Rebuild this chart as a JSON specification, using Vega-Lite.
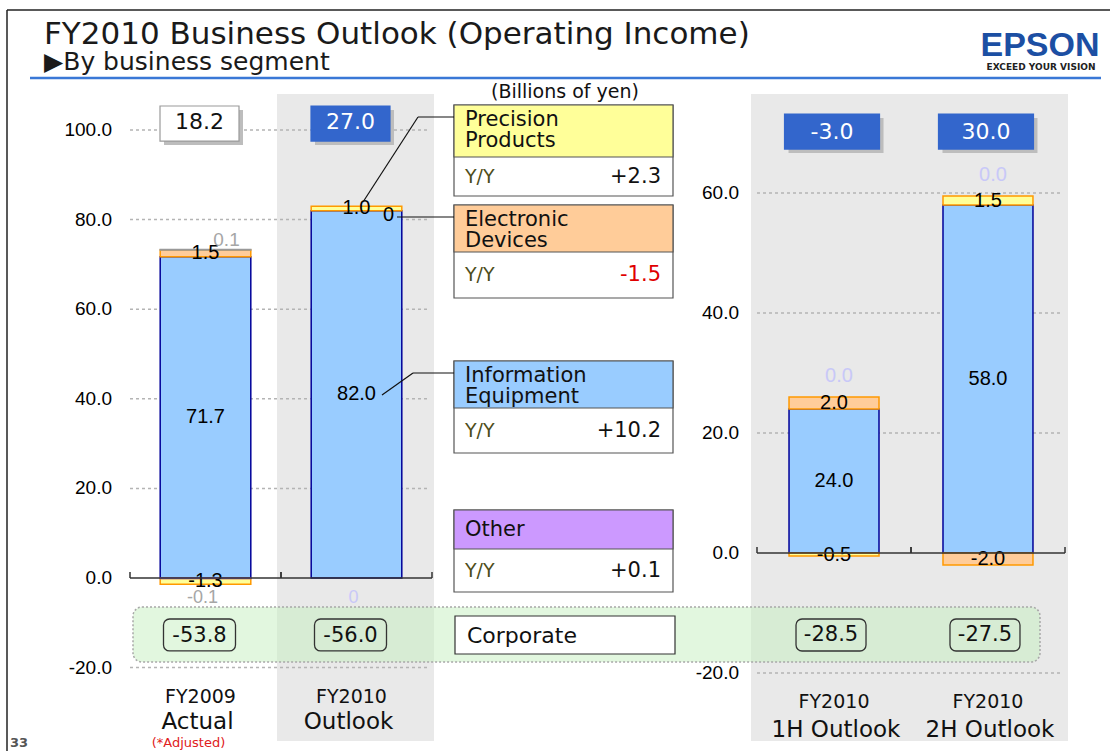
{
  "$schema": "https://vega.github.io/schema/vega-lite/v6.json",
  "width": 1110,
  "height": 751,
  "autosize": {"type": "none"},
  "padding": 0,
  "background": "#ffffff",
  "config": {"view": {"stroke": null}, "font": "DejaVu Sans"},
  "datasets": {
    "segments": [
      {"period": "FY2009 Actual", "panel": "annual", "series": "Information Equipment", "value": 71.7, "label": "71.7"},
      {"period": "FY2009 Actual", "panel": "annual", "series": "Electronic Devices", "value": 1.5, "label": "1.5"},
      {"period": "FY2009 Actual", "panel": "annual", "series": "Precision Products", "value": -1.3, "label": "-1.3"},
      {"period": "FY2009 Actual", "panel": "annual", "series": "Other", "value": -0.1, "label": "-0.1"},
      {"period": "FY2009 Actual", "panel": "annual", "series": "Unallocated", "value": 0.1, "label": "0.1"},
      {"period": "FY2010 Outlook", "panel": "annual", "series": "Information Equipment", "value": 82.0, "label": "82.0"},
      {"period": "FY2010 Outlook", "panel": "annual", "series": "Electronic Devices", "value": 0, "label": "0"},
      {"period": "FY2010 Outlook", "panel": "annual", "series": "Precision Products", "value": 1.0, "label": "1.0"},
      {"period": "FY2010 Outlook", "panel": "annual", "series": "Other", "value": 0, "label": "0"},
      {"period": "FY2010 1H Outlook", "panel": "half", "series": "Information Equipment", "value": 24.0, "label": "24.0"},
      {"period": "FY2010 1H Outlook", "panel": "half", "series": "Electronic Devices", "value": 2.0, "label": "2.0"},
      {"period": "FY2010 1H Outlook", "panel": "half", "series": "Precision Products", "value": -0.5, "label": "-0.5"},
      {"period": "FY2010 1H Outlook", "panel": "half", "series": "Other", "value": 0, "label": "0.0"},
      {"period": "FY2010 2H Outlook", "panel": "half", "series": "Information Equipment", "value": 58.0, "label": "58.0"},
      {"period": "FY2010 2H Outlook", "panel": "half", "series": "Electronic Devices", "value": -2.0, "label": "-2.0"},
      {"period": "FY2010 2H Outlook", "panel": "half", "series": "Precision Products", "value": 1.5, "label": "1.5"},
      {"period": "FY2010 2H Outlook", "panel": "half", "series": "Other", "value": 0, "label": "0.0"}
    ],
    "totals": [
      {"period": "FY2009 Actual", "panel": "annual", "kind": "Actual", "total": 18.2, "corporate": -53.8, "line1": "FY2009", "line2": "Actual"},
      {"period": "FY2010 Outlook", "panel": "annual", "kind": "Outlook", "total": 27.0, "corporate": -56.0, "line1": "FY2010", "line2": "Outlook"},
      {"period": "FY2010 1H Outlook", "panel": "half", "kind": "Outlook", "total": -3.0, "corporate": -28.5, "line1": "FY2010", "line2": "1H Outlook"},
      {"period": "FY2010 2H Outlook", "panel": "half", "kind": "Outlook", "total": 30.0, "corporate": -27.5, "line1": "FY2010", "line2": "2H Outlook"}
    ],
    "legend": [
      {"series": "Precision Products", "header": "Precision\nProducts", "yoy": 2.3, "top": 105, "split": 157, "bottom": 196},
      {"series": "Electronic Devices", "header": "Electronic\nDevices", "yoy": -1.5, "top": 205, "split": 252, "bottom": 298},
      {"series": "Information Equipment", "header": "Information\nEquipment", "yoy": 10.2, "top": 361, "split": 408, "bottom": 453},
      {"series": "Other", "header": "Other", "yoy": 0.1, "top": 510, "split": 549, "bottom": 592}
    ],
    "leaders": [
      {"x": 363, "y": 202, "x2": 418, "y2": 117},
      {"x": 418, "y": 117, "x2": 454, "y2": 117},
      {"x": 397, "y": 217, "x2": 454, "y2": 217},
      {"x": 382, "y": 395, "x2": 413, "y2": 373},
      {"x": 413, "y": 373, "x2": 454, "y2": 373}
    ]
  },
  "layer": [
    {
      "data": {"values": [{}]},
      "layer": [
        {"mark": {"type": "rule", "stroke": "#222222", "strokeWidth": 1.5},
         "encoding": {"x": {"datum": 7, "type": "quantitative", "scale": {"domain": [0, 1110], "nice": false, "zero": false}, "axis": null}, "x2": {"datum": 1110},
                      "y": {"datum": 10, "type": "quantitative", "scale": {"domain": [0, 751], "reverse": true, "nice": false, "zero": false}, "axis": null}, "y2": {"datum": 10}}},
        {"mark": {"type": "rule", "stroke": "#222222", "strokeWidth": 1.5},
         "encoding": {"x": {"datum": 7, "type": "quantitative", "scale": {"domain": [0, 1110], "nice": false, "zero": false}, "axis": null}, "x2": {"datum": 7},
                      "y": {"datum": 10, "type": "quantitative", "scale": {"domain": [0, 751], "reverse": true, "nice": false, "zero": false}, "axis": null}, "y2": {"datum": 751}}},
        {"mark": {"type": "rule", "stroke": "#3a78d6", "strokeWidth": 2.5},
         "encoding": {"x": {"datum": 30, "type": "quantitative", "scale": {"domain": [0, 1110], "nice": false, "zero": false}, "axis": null}, "x2": {"datum": 1101},
                      "y": {"datum": 78, "type": "quantitative", "scale": {"domain": [0, 751], "reverse": true, "nice": false, "zero": false}, "axis": null}, "y2": {"datum": 78}}},
        {"mark": {"type": "rect", "fill": "#e9e9e9"},
         "encoding": {"x": {"datum": 277, "type": "quantitative", "scale": {"domain": [0, 1110], "nice": false, "zero": false}, "axis": null}, "x2": {"datum": 434},
                      "y": {"datum": 94, "type": "quantitative", "scale": {"domain": [0, 751], "reverse": true, "nice": false, "zero": false}, "axis": null}, "y2": {"datum": 741}}},
        {"mark": {"type": "rect", "fill": "#e9e9e9"},
         "encoding": {"x": {"datum": 751, "type": "quantitative", "scale": {"domain": [0, 1110], "nice": false, "zero": false}, "axis": null}, "x2": {"datum": 1068},
                      "y": {"datum": 94, "type": "quantitative", "scale": {"domain": [0, 751], "reverse": true, "nice": false, "zero": false}, "axis": null}, "y2": {"datum": 741}}},
        {"mark": {"type": "rect", "fill": "#c6efbf", "fillOpacity": 0.5, "stroke": "#a8a8a8", "strokeDash": [2, 2], "strokeWidth": 1.5, "cornerRadius": 9},
         "encoding": {"x": {"datum": 133, "type": "quantitative", "scale": {"domain": [0, 1110], "nice": false, "zero": false}, "axis": null}, "x2": {"datum": 1040},
                      "y": {"datum": 607, "type": "quantitative", "scale": {"domain": [0, 751], "reverse": true, "nice": false, "zero": false}, "axis": null}, "y2": {"datum": 662}}}
      ]
    },
    {
      "layer": [
        {
          "data": {"values": [{"v": -20}, {"v": 20}, {"v": 40}, {"v": 60}, {"v": 80}, {"v": 100}]},
          "mark": {"type": "rule", "stroke": "#b4b4b4", "strokeDash": [3, 3], "strokeWidth": 1.5},
          "encoding": {
            "x": {"datum": 130, "type": "quantitative", "scale": {"domain": [0, 1110], "nice": false, "zero": false}, "axis": null},
            "x2": {"datum": 430},
            "y": {"field": "v", "type": "quantitative", "scale": {"domain": [-38.62, 129.02], "nice": false, "zero": false}, "axis": null}
          }
        },
        {
          "data": {"values": [{"v": -20}, {"v": 0}, {"v": 20}, {"v": 40}, {"v": 60}, {"v": 80}, {"v": 100}]},
          "transform": [{"calculate": "replace(format(datum.v, '.1f'), '−', '-')", "as": "tick"}],
          "mark": {"type": "text", "align": "right", "baseline": "middle", "font": "Liberation Sans", "fontSize": 19, "fill": "#000000"},
          "encoding": {
            "x": {"datum": 112, "type": "quantitative", "scale": {"domain": [0, 1110], "nice": false, "zero": false}, "axis": null},
            "y": {"field": "v", "type": "quantitative", "scale": {"domain": [-38.62, 129.02], "nice": false, "zero": false}, "axis": null},
            "text": {"field": "tick"}
          }
        },
        {
          "layer": [
            {
              "data": {"name": "segments"},
              "transform": [
                {"filter": "datum.panel === 'annual'"},
                {"calculate": "indexof(['Other','Information Equipment','Electronic Devices','Precision Products','Unallocated'], datum.series)", "as": "ord"},
                {"stack": "value", "groupby": ["period"], "sort": [{"field": "ord", "order": "ascending"}], "as": ["v0", "v1"]},
                {"calculate": "(datum.v0 + datum.v1) / 2", "as": "mid"}
              ],
              "layer": [
                {
                  "transform": [{"filter": "datum.value !== 0"}],
                  "mark": {"type": "bar", "strokeWidth": 1.5},
                  "encoding": {
                    "x": {"field": "period", "type": "nominal", "scale": {"type": "band", "domain": ["FY2009 Actual", "FY2010 Outlook"], "range": [130, 432], "paddingInner": 0.4, "paddingOuter": 0.2}, "axis": null},
                    "y": {"field": "v0", "type": "quantitative", "scale": {"domain": [-38.62, 129.02], "nice": false, "zero": false}, "axis": null},
                    "y2": {"field": "v1"},
                    "fill": {"field": "series", "type": "nominal", "scale": {"domain": ["Information Equipment", "Electronic Devices", "Precision Products", "Other", "Unallocated"], "range": ["#99ccff", "#ffcc99", "#ffff99", "#cc99ff", "#a6a6a6"]}, "legend": null},
                    "stroke": {"field": "series", "type": "nominal", "scale": {"domain": ["Information Equipment", "Electronic Devices", "Precision Products", "Other", "Unallocated"], "range": ["#000099", "#ff9900", "#ff9900", "#9966cc", "#999999"]}, "legend": null}
                  }
                },
                {
                  "transform": [{"filter": "datum.value !== 0 && (datum.series === 'Information Equipment' || datum.series === 'Electronic Devices' || datum.series === 'Precision Products')"}],
                  "mark": {"type": "text", "font": "Liberation Sans", "fontSize": 20, "baseline": "middle", "fill": "#000000"},
                  "encoding": {
                    "x": {"field": "period", "type": "nominal", "scale": {"type": "band", "domain": ["FY2009 Actual", "FY2010 Outlook"], "range": [130, 432], "paddingInner": 0.4, "paddingOuter": 0.2}, "axis": null},
                    "y": {"field": "mid", "type": "quantitative", "scale": {"domain": [-38.62, 129.02], "nice": false, "zero": false}, "axis": null},
                    "text": {"field": "label"}
                  }
                },
                {
                  "transform": [{"filter": "datum.value === 0 && datum.series === 'Electronic Devices'"}],
                  "mark": {"type": "text", "font": "Liberation Sans", "fontSize": 20, "baseline": "middle", "fill": "#000000", "dx": 32, "dy": 4},
                  "encoding": {
                    "x": {"field": "period", "type": "nominal", "scale": {"type": "band", "domain": ["FY2009 Actual", "FY2010 Outlook"], "range": [130, 432], "paddingInner": 0.4, "paddingOuter": 0.2}, "axis": null},
                    "y": {"field": "v1", "type": "quantitative", "scale": {"domain": [-38.62, 129.02], "nice": false, "zero": false}, "axis": null},
                    "text": {"field": "label"}
                  }
                },
                {
                  "transform": [{"filter": "datum.series === 'Other'"}],
                  "mark": {"type": "text", "font": "Liberation Sans", "fontSize": 18, "baseline": "middle", "dx": -3, "dy": 20},
                  "encoding": {
                    "x": {"field": "period", "type": "nominal", "scale": {"type": "band", "domain": ["FY2009 Actual", "FY2010 Outlook"], "range": [130, 432], "paddingInner": 0.4, "paddingOuter": 0.2}, "axis": null},
                    "y": {"field": "v1", "type": "quantitative", "scale": {"domain": [-38.62, 129.02], "nice": false, "zero": false}, "axis": null},
                    "text": {"field": "label"},
                    "fill": {"condition": {"test": "datum.value < 0", "value": "#a6a6a6"}, "value": "#c8c8f8"}
                  }
                },
                {
                  "transform": [{"filter": "datum.series === 'Unallocated'"}],
                  "mark": {"type": "text", "font": "Liberation Sans", "fontSize": 19, "baseline": "middle", "fill": "#a6a6a6", "dx": 21, "dy": -10},
                  "encoding": {
                    "x": {"field": "period", "type": "nominal", "scale": {"type": "band", "domain": ["FY2009 Actual", "FY2010 Outlook"], "range": [130, 432], "paddingInner": 0.4, "paddingOuter": 0.2}, "axis": null},
                    "y": {"field": "v1", "type": "quantitative", "scale": {"domain": [-38.62, 129.02], "nice": false, "zero": false}, "axis": null},
                    "text": {"field": "label"}
                  }
                }
              ]
            },
            {
              "data": {"name": "totals"},
              "transform": [
                {"filter": "datum.panel === 'annual'"},
                {"calculate": "replace(format(datum.total, '.1f'), '−', '-')", "as": "totalText"},
                {"calculate": "replace(format(datum.corporate, '.1f'), '−', '-')", "as": "corpText"}
              ],
              "layer": [
                {
                  "mark": {"type": "rule", "stroke": "#333333", "strokeWidth": 1.5, "y2Offset": -6},
                  "encoding": {
                    "x": {"field": "period", "type": "nominal", "bandPosition": -0.3333, "scale": {"type": "band", "domain": ["FY2009 Actual", "FY2010 Outlook"], "range": [130, 432], "paddingInner": 0.4, "paddingOuter": 0.2}, "axis": null},
                    "y": {"datum": 0, "type": "quantitative", "scale": {"domain": [-38.62, 129.02], "nice": false, "zero": false}, "axis": null},
                    "y2": {"datum": 0}
                  }
                },
                {
                  "mark": {"type": "rule", "stroke": "#333333", "strokeWidth": 1.5, "y2Offset": -6},
                  "encoding": {
                    "x": {"field": "period", "type": "nominal", "bandPosition": 1.3333, "scale": {"type": "band", "domain": ["FY2009 Actual", "FY2010 Outlook"], "range": [130, 432], "paddingInner": 0.4, "paddingOuter": 0.2}, "axis": null},
                    "y": {"datum": 0, "type": "quantitative", "scale": {"domain": [-38.62, 129.02], "nice": false, "zero": false}, "axis": null},
                    "y2": {"datum": 0}
                  }
                },
                {
                  "mark": {"type": "bar", "width": 79, "fill": "#bdbdbd", "xOffset": -2, "yOffset": 4, "y2Offset": 4},
                  "encoding": {
                    "x": {"field": "period", "type": "nominal", "scale": {"type": "band", "domain": ["FY2009 Actual", "FY2010 Outlook"], "range": [130, 432], "paddingInner": 0.4, "paddingOuter": 0.2}, "axis": null},
                    "y": {"datum": 105.36, "type": "quantitative", "scale": {"domain": [-38.62, 129.02], "nice": false, "zero": false}, "axis": null},
                    "y2": {"datum": 97.54}
                  }
                },
                {
                  "mark": {"type": "bar", "width": 79, "xOffset": -6, "strokeWidth": 1.2},
                  "encoding": {
                    "x": {"field": "period", "type": "nominal", "scale": {"type": "band", "domain": ["FY2009 Actual", "FY2010 Outlook"], "range": [130, 432], "paddingInner": 0.4, "paddingOuter": 0.2}, "axis": null},
                    "y": {"datum": 105.36, "type": "quantitative", "scale": {"domain": [-38.62, 129.02], "nice": false, "zero": false}, "axis": null},
                    "y2": {"datum": 97.54},
                    "fill": {"condition": {"test": "datum.kind === 'Actual'", "value": "#ffffff"}, "value": "#3366cc"},
                    "stroke": {"condition": {"test": "datum.kind === 'Actual'", "value": "#9a9a9a"}, "value": "#3366cc"}
                  }
                },
                {
                  "mark": {"type": "text", "font": "DejaVu Sans", "fontSize": 22, "baseline": "middle", "dx": -6},
                  "encoding": {
                    "x": {"field": "period", "type": "nominal", "scale": {"type": "band", "domain": ["FY2009 Actual", "FY2010 Outlook"], "range": [130, 432], "paddingInner": 0.4, "paddingOuter": 0.2}, "axis": null},
                    "y": {"datum": 101.79, "type": "quantitative", "scale": {"domain": [-38.62, 129.02], "nice": false, "zero": false}, "axis": null},
                    "text": {"field": "totalText"},
                    "fill": {"condition": {"test": "datum.kind === 'Actual'", "value": "#111111"}, "value": "#ffffff"}
                  }
                },
                {
                  "mark": {"type": "bar", "width": 72, "xOffset": -6, "fill": "transparent", "stroke": "#333333", "strokeWidth": 1.3, "cornerRadius": 6},
                  "encoding": {
                    "x": {"field": "period", "type": "nominal", "scale": {"type": "band", "domain": ["FY2009 Actual", "FY2010 Outlook"], "range": [130, 432], "paddingInner": 0.4, "paddingOuter": 0.2}, "axis": null},
                    "y": {"datum": -9.15, "type": "quantitative", "scale": {"domain": [-38.62, 129.02], "nice": false, "zero": false}, "axis": null},
                    "y2": {"datum": -16.29}
                  }
                },
                {
                  "mark": {"type": "text", "font": "DejaVu Sans", "fontSize": 21, "baseline": "middle", "dx": -6, "fill": "#111111"},
                  "encoding": {
                    "x": {"field": "period", "type": "nominal", "scale": {"type": "band", "domain": ["FY2009 Actual", "FY2010 Outlook"], "range": [130, 432], "paddingInner": 0.4, "paddingOuter": 0.2}, "axis": null},
                    "y": {"datum": -12.9, "type": "quantitative", "scale": {"domain": [-38.62, 129.02], "nice": false, "zero": false}, "axis": null},
                    "text": {"field": "corpText"}
                  }
                },
                {
                  "mark": {"type": "text", "font": "DejaVu Sans", "fontSize": 19, "baseline": "alphabetic", "dx": -5, "fill": "#111111"},
                  "encoding": {
                    "x": {"field": "period", "type": "nominal", "scale": {"type": "band", "domain": ["FY2009 Actual", "FY2010 Outlook"], "range": [130, 432], "paddingInner": 0.4, "paddingOuter": 0.2}, "axis": null},
                    "y": {"datum": -28.0, "type": "quantitative", "scale": {"domain": [-38.62, 129.02], "nice": false, "zero": false}, "axis": null},
                    "text": {"field": "line1"}
                  }
                },
                {
                  "mark": {"type": "text", "font": "DejaVu Sans", "fontSize": 23, "baseline": "alphabetic", "dx": -8, "fill": "#111111"},
                  "encoding": {
                    "x": {"field": "period", "type": "nominal", "scale": {"type": "band", "domain": ["FY2009 Actual", "FY2010 Outlook"], "range": [130, 432], "paddingInner": 0.4, "paddingOuter": 0.2}, "axis": null},
                    "y": {"datum": -33.6, "type": "quantitative", "scale": {"domain": [-38.62, 129.02], "nice": false, "zero": false}, "axis": null},
                    "text": {"field": "line2"}
                  }
                },
                {
                  "transform": [{"filter": "datum.kind === 'Actual'"}],
                  "mark": {"type": "text", "text": "(*Adjusted)", "font": "DejaVu Sans", "fontSize": 13, "baseline": "middle", "dx": -17, "fill": "#e02020"},
                  "encoding": {
                    "x": {"field": "period", "type": "nominal", "scale": {"type": "band", "domain": ["FY2009 Actual", "FY2010 Outlook"], "range": [130, 432], "paddingInner": 0.4, "paddingOuter": 0.2}, "axis": null},
                    "y": {"datum": -36.8, "type": "quantitative", "scale": {"domain": [-38.62, 129.02], "nice": false, "zero": false}, "axis": null}
                  }
                }
              ]
            }
          ]
        },
        {
          "data": {"values": [{}]},
          "mark": {"type": "rule", "stroke": "#333333", "strokeWidth": 1.5},
          "encoding": {
            "x": {"datum": 130, "type": "quantitative", "scale": {"domain": [0, 1110], "nice": false, "zero": false}, "axis": null},
            "x2": {"datum": 432},
            "y": {"datum": 0, "type": "quantitative", "scale": {"domain": [-38.62, 129.02], "nice": false, "zero": false}, "axis": null}
          }
        }
      ],
      "resolve": {"scale": {"x": "independent"}}
    },
    {
      "layer": [
        {
          "data": {"values": [{"v": -20}, {"v": 20}, {"v": 40}, {"v": 60}]},
          "mark": {"type": "rule", "stroke": "#b4b4b4", "strokeDash": [3, 3], "strokeWidth": 1.5},
          "encoding": {
            "x": {"datum": 757, "type": "quantitative", "scale": {"domain": [0, 1110], "nice": false, "zero": false}, "axis": null},
            "x2": {"datum": 1063},
            "y": {"field": "v", "type": "quantitative", "scale": {"domain": [-33, 92.17], "nice": false, "zero": false}, "axis": null}
          }
        },
        {
          "data": {"values": [{"v": -20}, {"v": 0}, {"v": 20}, {"v": 40}, {"v": 60}]},
          "transform": [{"calculate": "replace(format(datum.v, '.1f'), '−', '-')", "as": "tick"}],
          "mark": {"type": "text", "align": "right", "baseline": "middle", "font": "Liberation Sans", "fontSize": 19, "fill": "#000000"},
          "encoding": {
            "x": {"datum": 739, "type": "quantitative", "scale": {"domain": [0, 1110], "nice": false, "zero": false}, "axis": null},
            "y": {"field": "v", "type": "quantitative", "scale": {"domain": [-33, 92.17], "nice": false, "zero": false}, "axis": null},
            "text": {"field": "tick"}
          }
        },
        {
          "layer": [
            {
              "data": {"name": "segments"},
              "transform": [
                {"filter": "datum.panel === 'half'"},
                {"calculate": "indexof(['Information Equipment','Electronic Devices','Precision Products','Other'], datum.series)", "as": "ord"},
                {"stack": "value", "groupby": ["period"], "sort": [{"field": "ord", "order": "ascending"}], "as": ["v0", "v1"]},
                {"calculate": "(datum.v0 + datum.v1) / 2", "as": "mid"}
              ],
              "layer": [
                {
                  "transform": [{"filter": "datum.value !== 0"}],
                  "mark": {"type": "bar", "strokeWidth": 1.5},
                  "encoding": {
                    "x": {"field": "period", "type": "nominal", "scale": {"type": "band", "domain": ["FY2010 1H Outlook", "FY2010 2H Outlook"], "range": [757, 1065], "paddingInner": 0.4156, "paddingOuter": 0.208}, "axis": null},
                    "y": {"field": "v0", "type": "quantitative", "scale": {"domain": [-33, 92.17], "nice": false, "zero": false}, "axis": null},
                    "y2": {"field": "v1"},
                    "fill": {"field": "series", "type": "nominal", "scale": {"domain": ["Information Equipment", "Electronic Devices", "Precision Products", "Other", "Unallocated"], "range": ["#99ccff", "#ffcc99", "#ffff99", "#cc99ff", "#a6a6a6"]}, "legend": null},
                    "stroke": {"field": "series", "type": "nominal", "scale": {"domain": ["Information Equipment", "Electronic Devices", "Precision Products", "Other", "Unallocated"], "range": ["#000099", "#ff9900", "#ff9900", "#9966cc", "#999999"]}, "legend": null}
                  }
                },
                {
                  "transform": [{"filter": "datum.value !== 0 && datum.series !== 'Other'"}],
                  "mark": {"type": "text", "font": "Liberation Sans", "fontSize": 20, "baseline": "middle", "fill": "#000000"},
                  "encoding": {
                    "x": {"field": "period", "type": "nominal", "scale": {"type": "band", "domain": ["FY2010 1H Outlook", "FY2010 2H Outlook"], "range": [757, 1065], "paddingInner": 0.4156, "paddingOuter": 0.208}, "axis": null},
                    "y": {"field": "mid", "type": "quantitative", "scale": {"domain": [-33, 92.17], "nice": false, "zero": false}, "axis": null},
                    "text": {"field": "label"}
                  }
                },
                {
                  "transform": [{"filter": "datum.series === 'Other'"}],
                  "mark": {"type": "text", "font": "Liberation Sans", "fontSize": 20, "baseline": "middle", "fill": "#c8c8f8", "dx": 5, "dy": -21},
                  "encoding": {
                    "x": {"field": "period", "type": "nominal", "scale": {"type": "band", "domain": ["FY2010 1H Outlook", "FY2010 2H Outlook"], "range": [757, 1065], "paddingInner": 0.4156, "paddingOuter": 0.208}, "axis": null},
                    "y": {"field": "v1", "type": "quantitative", "scale": {"domain": [-33, 92.17], "nice": false, "zero": false}, "axis": null},
                    "text": {"field": "label"}
                  }
                }
              ]
            },
            {
              "data": {"name": "totals"},
              "transform": [
                {"filter": "datum.panel === 'half'"},
                {"calculate": "replace(format(datum.total, '.1f'), '−', '-')", "as": "totalText"},
                {"calculate": "replace(format(datum.corporate, '.1f'), '−', '-')", "as": "corpText"}
              ],
              "layer": [
                {
                  "mark": {"type": "rule", "stroke": "#333333", "strokeWidth": 1.5, "y2Offset": -6},
                  "encoding": {
                    "x": {"field": "period", "type": "nominal", "bandPosition": -0.356, "scale": {"type": "band", "domain": ["FY2010 1H Outlook", "FY2010 2H Outlook"], "range": [757, 1065], "paddingInner": 0.4156, "paddingOuter": 0.208}, "axis": null},
                    "y": {"datum": 0, "type": "quantitative", "scale": {"domain": [-33, 92.17], "nice": false, "zero": false}, "axis": null},
                    "y2": {"datum": 0}
                  }
                },
                {
                  "mark": {"type": "rule", "stroke": "#333333", "strokeWidth": 1.5, "y2Offset": -6},
                  "encoding": {
                    "x": {"field": "period", "type": "nominal", "bandPosition": 1.356, "scale": {"type": "band", "domain": ["FY2010 1H Outlook", "FY2010 2H Outlook"], "range": [757, 1065], "paddingInner": 0.4156, "paddingOuter": 0.208}, "axis": null},
                    "y": {"datum": 0, "type": "quantitative", "scale": {"domain": [-33, 92.17], "nice": false, "zero": false}, "axis": null},
                    "y2": {"datum": 0}
                  }
                },
                {
                  "mark": {"type": "bar", "width": 95, "fill": "#bdbdbd", "xOffset": 2, "yOffset": 4, "y2Offset": 4},
                  "encoding": {
                    "x": {"field": "period", "type": "nominal", "scale": {"type": "band", "domain": ["FY2010 1H Outlook", "FY2010 2H Outlook"], "range": [757, 1065], "paddingInner": 0.4156, "paddingOuter": 0.208}, "axis": null},
                    "y": {"datum": 73.17, "type": "quantitative", "scale": {"domain": [-33, 92.17], "nice": false, "zero": false}, "axis": null},
                    "y2": {"datum": 67.33}
                  }
                },
                {
                  "mark": {"type": "bar", "width": 95, "xOffset": -2, "fill": "#3366cc", "stroke": "#3366cc", "strokeWidth": 1.2},
                  "encoding": {
                    "x": {"field": "period", "type": "nominal", "scale": {"type": "band", "domain": ["FY2010 1H Outlook", "FY2010 2H Outlook"], "range": [757, 1065], "paddingInner": 0.4156, "paddingOuter": 0.208}, "axis": null},
                    "y": {"datum": 73.17, "type": "quantitative", "scale": {"domain": [-33, 92.17], "nice": false, "zero": false}, "axis": null},
                    "y2": {"datum": 67.33}
                  }
                },
                {
                  "mark": {"type": "text", "font": "DejaVu Sans", "fontSize": 22, "baseline": "middle", "dx": -2, "fill": "#ffffff"},
                  "encoding": {
                    "x": {"field": "period", "type": "nominal", "scale": {"type": "band", "domain": ["FY2010 1H Outlook", "FY2010 2H Outlook"], "range": [757, 1065], "paddingInner": 0.4156, "paddingOuter": 0.208}, "axis": null},
                    "y": {"datum": 70.17, "type": "quantitative", "scale": {"domain": [-33, 92.17], "nice": false, "zero": false}, "axis": null},
                    "text": {"field": "totalText"}
                  }
                },
                {
                  "mark": {"type": "bar", "width": 70, "xOffset": -3, "fill": "transparent", "stroke": "#333333", "strokeWidth": 1.3, "cornerRadius": 6},
                  "encoding": {
                    "x": {"field": "period", "type": "nominal", "scale": {"type": "band", "domain": ["FY2010 1H Outlook", "FY2010 2H Outlook"], "range": [757, 1065], "paddingInner": 0.4156, "paddingOuter": 0.208}, "axis": null},
                    "y": {"datum": -11.0, "type": "quantitative", "scale": {"domain": [-33, 92.17], "nice": false, "zero": false}, "axis": null},
                    "y2": {"datum": -16.33}
                  }
                },
                {
                  "mark": {"type": "text", "font": "DejaVu Sans", "fontSize": 21, "baseline": "middle", "dx": -3, "fill": "#111111"},
                  "encoding": {
                    "x": {"field": "period", "type": "nominal", "scale": {"type": "band", "domain": ["FY2010 1H Outlook", "FY2010 2H Outlook"], "range": [757, 1065], "paddingInner": 0.4156, "paddingOuter": 0.208}, "axis": null},
                    "y": {"datum": -13.7, "type": "quantitative", "scale": {"domain": [-33, 92.17], "nice": false, "zero": false}, "axis": null},
                    "text": {"field": "corpText"}
                  }
                },
                {
                  "mark": {"type": "text", "font": "DejaVu Sans", "fontSize": 19, "baseline": "alphabetic", "fill": "#111111"},
                  "encoding": {
                    "x": {"field": "period", "type": "nominal", "scale": {"type": "band", "domain": ["FY2010 1H Outlook", "FY2010 2H Outlook"], "range": [757, 1065], "paddingInner": 0.4156, "paddingOuter": 0.208}, "axis": null},
                    "y": {"datum": -25.8, "type": "quantitative", "scale": {"domain": [-33, 92.17], "nice": false, "zero": false}, "axis": null},
                    "text": {"field": "line1"}
                  }
                },
                {
                  "mark": {"type": "text", "font": "DejaVu Sans", "fontSize": 23, "baseline": "alphabetic", "dx": 2, "fill": "#111111"},
                  "encoding": {
                    "x": {"field": "period", "type": "nominal", "scale": {"type": "band", "domain": ["FY2010 1H Outlook", "FY2010 2H Outlook"], "range": [757, 1065], "paddingInner": 0.4156, "paddingOuter": 0.208}, "axis": null},
                    "y": {"datum": -30.67, "type": "quantitative", "scale": {"domain": [-33, 92.17], "nice": false, "zero": false}, "axis": null},
                    "text": {"field": "line2"}
                  }
                }
              ]
            }
          ]
        },
        {
          "data": {"values": [{}]},
          "mark": {"type": "rule", "stroke": "#333333", "strokeWidth": 1.5},
          "encoding": {
            "x": {"datum": 757, "type": "quantitative", "scale": {"domain": [0, 1110], "nice": false, "zero": false}, "axis": null},
            "x2": {"datum": 1065},
            "y": {"datum": 0, "type": "quantitative", "scale": {"domain": [-33, 92.17], "nice": false, "zero": false}, "axis": null}
          }
        }
      ],
      "resolve": {"scale": {"x": "independent"}}
    },
    {
      "data": {"values": [{}]},
      "layer": [
        {
          "data": {"name": "legend"},
          "mark": {"type": "rect", "fill": "#ffffff", "stroke": "#555555", "strokeWidth": 1.2},
          "encoding": {
            "x": {"datum": 454, "type": "quantitative", "scale": {"domain": [0, 1110], "nice": false, "zero": false}, "axis": null}, "x2": {"datum": 673},
            "y": {"field": "top", "type": "quantitative", "scale": {"domain": [0, 751], "reverse": true, "nice": false, "zero": false}, "axis": null}, "y2": {"field": "bottom"}
          }
        },
        {
          "data": {"name": "legend"},
          "mark": {"type": "rect", "stroke": "#555555", "strokeWidth": 1.2},
          "encoding": {
            "x": {"datum": 454, "type": "quantitative", "scale": {"domain": [0, 1110], "nice": false, "zero": false}, "axis": null}, "x2": {"datum": 673},
            "y": {"field": "top", "type": "quantitative", "scale": {"domain": [0, 751], "reverse": true, "nice": false, "zero": false}, "axis": null}, "y2": {"field": "split"},
            "fill": {"field": "series", "type": "nominal", "scale": {"domain": ["Information Equipment", "Electronic Devices", "Precision Products", "Other", "Unallocated"], "range": ["#99ccff", "#ffcc99", "#ffff99", "#cc99ff", "#a6a6a6"]}, "legend": null}
          }
        },
        {
          "data": {"name": "legend"},
          "transform": [{"filter": "datum.series !== 'Other'"}],
          "mark": {"type": "text", "align": "left", "baseline": "alphabetic", "lineBreak": "\n", "lineHeight": 21, "font": "DejaVu Sans", "fontSize": 21, "fill": "#111111", "dy": 21},
          "encoding": {
            "x": {"datum": 465, "type": "quantitative", "scale": {"domain": [0, 1110], "nice": false, "zero": false}, "axis": null},
            "y": {"field": "top", "type": "quantitative", "scale": {"domain": [0, 751], "reverse": true, "nice": false, "zero": false}, "axis": null},
            "text": {"field": "header"}
          }
        },
        {
          "data": {"name": "legend"},
          "transform": [{"filter": "datum.series === 'Other'"}, {"calculate": "(datum.top + datum.split) / 2", "as": "hmid"}],
          "mark": {"type": "text", "align": "left", "baseline": "middle", "font": "DejaVu Sans", "fontSize": 21, "fill": "#111111"},
          "encoding": {
            "x": {"datum": 465, "type": "quantitative", "scale": {"domain": [0, 1110], "nice": false, "zero": false}, "axis": null},
            "y": {"field": "hmid", "type": "quantitative", "scale": {"domain": [0, 751], "reverse": true, "nice": false, "zero": false}, "axis": null},
            "text": {"field": "header"}
          }
        },
        {
          "data": {"name": "legend"},
          "transform": [{"calculate": "(datum.split + datum.bottom) / 2", "as": "ymid"}],
          "mark": {"type": "text", "text": "Y/Y", "align": "left", "baseline": "middle", "font": "DejaVu Sans", "fontSize": 19, "fill": "#4d4d1a"},
          "encoding": {
            "x": {"datum": 465, "type": "quantitative", "scale": {"domain": [0, 1110], "nice": false, "zero": false}, "axis": null},
            "y": {"field": "ymid", "type": "quantitative", "scale": {"domain": [0, 751], "reverse": true, "nice": false, "zero": false}, "axis": null}
          }
        },
        {
          "data": {"name": "legend"},
          "transform": [
            {"calculate": "(datum.split + datum.bottom) / 2", "as": "ymid"},
            {"calculate": "replace(format(datum.yoy, '+.1f'), '−', '-')", "as": "yoyText"}
          ],
          "mark": {"type": "text", "align": "right", "baseline": "middle", "font": "DejaVu Sans", "fontSize": 21},
          "encoding": {
            "x": {"datum": 661, "type": "quantitative", "scale": {"domain": [0, 1110], "nice": false, "zero": false}, "axis": null},
            "y": {"field": "ymid", "type": "quantitative", "scale": {"domain": [0, 751], "reverse": true, "nice": false, "zero": false}, "axis": null},
            "text": {"field": "yoyText"},
            "fill": {"condition": {"test": "datum.yoy < 0", "value": "#e00000"}, "value": "#111111"}
          }
        },
        {
          "mark": {"type": "rect", "fill": "#ffffff", "stroke": "#333333", "strokeWidth": 1.2},
          "encoding": {
            "x": {"datum": 455, "type": "quantitative", "scale": {"domain": [0, 1110], "nice": false, "zero": false}, "axis": null}, "x2": {"datum": 675},
            "y": {"datum": 616, "type": "quantitative", "scale": {"domain": [0, 751], "reverse": true, "nice": false, "zero": false}, "axis": null}, "y2": {"datum": 654}
          }
        },
        {
          "mark": {"type": "text", "text": "Corporate", "align": "left", "baseline": "middle", "font": "DejaVu Sans", "fontSize": 22, "fill": "#111111"},
          "encoding": {
            "x": {"datum": 467, "type": "quantitative", "scale": {"domain": [0, 1110], "nice": false, "zero": false}, "axis": null},
            "y": {"datum": 636, "type": "quantitative", "scale": {"domain": [0, 751], "reverse": true, "nice": false, "zero": false}, "axis": null}
          }
        },
        {
          "mark": {"type": "text", "text": "(Billions of yen)", "align": "center", "baseline": "middle", "font": "DejaVu Sans", "fontSize": 19, "fill": "#111111"},
          "encoding": {
            "x": {"datum": 565, "type": "quantitative", "scale": {"domain": [0, 1110], "nice": false, "zero": false}, "axis": null},
            "y": {"datum": 92, "type": "quantitative", "scale": {"domain": [0, 751], "reverse": true, "nice": false, "zero": false}, "axis": null}
          }
        },
        {
          "data": {"name": "leaders"},
          "mark": {"type": "rule", "stroke": "#111111", "strokeWidth": 1.2},
          "encoding": {
            "x": {"field": "x", "type": "quantitative", "scale": {"domain": [0, 1110], "nice": false, "zero": false}, "axis": null}, "x2": {"field": "x2"},
            "y": {"field": "y", "type": "quantitative", "scale": {"domain": [0, 751], "reverse": true, "nice": false, "zero": false}, "axis": null}, "y2": {"field": "y2"}
          }
        },
        {
          "mark": {"type": "text", "text": "FY2010 Business Outlook (Operating Income)", "align": "left", "baseline": "alphabetic", "font": "DejaVu Sans", "fontSize": 31, "fill": "#1a1a1a"},
          "encoding": {
            "x": {"datum": 44, "type": "quantitative", "scale": {"domain": [0, 1110], "nice": false, "zero": false}, "axis": null},
            "y": {"datum": 44, "type": "quantitative", "scale": {"domain": [0, 751], "reverse": true, "nice": false, "zero": false}, "axis": null}
          }
        },
        {
          "mark": {"type": "text", "text": "▶By business segment", "align": "left", "baseline": "alphabetic", "font": "DejaVu Sans", "fontSize": 25, "fill": "#1a1a1a"},
          "encoding": {
            "x": {"datum": 44, "type": "quantitative", "scale": {"domain": [0, 1110], "nice": false, "zero": false}, "axis": null},
            "y": {"datum": 70, "type": "quantitative", "scale": {"domain": [0, 751], "reverse": true, "nice": false, "zero": false}, "axis": null}
          }
        },
        {
          "mark": {"type": "text", "text": "EPSON", "align": "center", "baseline": "alphabetic", "font": "Liberation Sans", "fontWeight": "bold", "fontSize": 34, "fill": "#1c4fa3"},
          "encoding": {
            "x": {"datum": 1040, "type": "quantitative", "scale": {"domain": [0, 1110], "nice": false, "zero": false}, "axis": null},
            "y": {"datum": 56, "type": "quantitative", "scale": {"domain": [0, 751], "reverse": true, "nice": false, "zero": false}, "axis": null}
          }
        },
        {
          "mark": {"type": "text", "text": "EXCEED YOUR VISION", "align": "center", "baseline": "top", "font": "DejaVu Sans", "fontWeight": "bold", "fontSize": 9, "fill": "#222222"},
          "encoding": {
            "x": {"datum": 1041, "type": "quantitative", "scale": {"domain": [0, 1110], "nice": false, "zero": false}, "axis": null},
            "y": {"datum": 63, "type": "quantitative", "scale": {"domain": [0, 751], "reverse": true, "nice": false, "zero": false}, "axis": null}
          }
        },
        {
          "mark": {"type": "text", "text": "33", "align": "left", "baseline": "alphabetic", "font": "DejaVu Sans", "fontWeight": "bold", "fontSize": 13, "fill": "#555555"},
          "encoding": {
            "x": {"datum": 10, "type": "quantitative", "scale": {"domain": [0, 1110], "nice": false, "zero": false}, "axis": null},
            "y": {"datum": 747, "type": "quantitative", "scale": {"domain": [0, 751], "reverse": true, "nice": false, "zero": false}, "axis": null}
          }
        }
      ]
    }
  ],
  "resolve": {"scale": {"x": "independent", "y": "independent"}}
}
